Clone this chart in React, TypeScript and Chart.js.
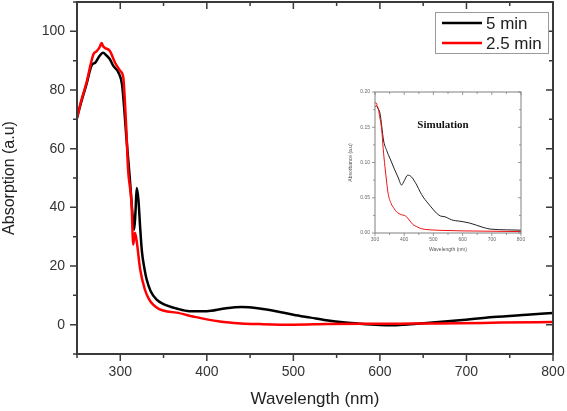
import React, { useEffect, useRef } from "react";
import { Chart, registerables } from "chart.js";

Chart.register(...registerables);

// ---- Main chart data ----
const WL_5 = [250, 255, 261, 267, 271, 276, 280, 284, 288, 292, 298, 302, 305, 307, 311, 314, 316, 317.5, 319, 321, 323, 325, 328, 330.5, 335, 342, 350, 365, 380, 400, 420, 440, 461, 480, 500, 520, 538, 560, 577, 600, 615, 635, 654, 692, 731, 770, 800];
const ABS_5 = [70.5, 76, 82, 88.5, 89.3, 91.6, 92.7, 91.8, 90.5, 88.2, 85.9, 81.9, 72, 64, 50, 38, 32.4, 38, 46.6, 42.5, 33, 25, 19, 15.4, 11.5, 8.5, 7, 5.5, 4.6, 4.6, 5.5, 6.0, 5.5, 4.6, 3.4, 2.4, 1.5, 0.7, 0.3, -0.1, -0.2, 0.1, 0.6, 1.5, 2.6, 3.4, 4.0];

const WL_25 = [250, 255, 261, 266, 269, 273, 276, 278.5, 280, 282, 288, 294, 300, 303.5, 305, 307, 309, 313, 315, 317, 319, 323, 328.5, 333, 338, 345, 354, 365, 384, 400, 415, 423, 440, 461, 500, 539, 580, 615, 650, 692, 740, 800];
const ABS_25 = [70.5, 76.5, 82.5, 89, 92.2, 93.3, 94.5, 96, 95, 94.4, 93.3, 89.3, 86.5, 84.2, 78, 66.6, 53, 41.5, 27.3, 31.3, 28.4, 18.8, 11.9, 8.8, 6.8, 5.3, 4.5, 4.1, 2.8, 1.8, 1.1, 0.8, 0.4, 0.2, 0, 0.2, 0.3, 0.3, 0.4, 0.5, 0.7, 0.9];

const X_TICKS = [300, 400, 500, 600, 700, 800];
const Y_TICKS = [0, 20, 40, 60, 80, 100];
const SERIES_LABELS = ["5 min", "2.5 min"];
const SERIES_COLORS = ["#000000", "#ff0000"];

// ---- Inset (simulation) data ----
const SIM_WL_5 = [300, 305, 310, 317, 323, 329, 340, 351, 365, 380, 391, 400, 412, 424, 433, 443, 455, 465, 490, 511, 525, 540, 555, 568, 585, 602, 625, 648, 670, 694, 750, 800];
const SIM_5 = [0.182, 0.181, 0.177, 0.17, 0.152, 0.132, 0.117, 0.106, 0.092, 0.078, 0.068, 0.074, 0.082, 0.08, 0.075, 0.068, 0.058, 0.051, 0.038, 0.028, 0.024, 0.023, 0.02, 0.018, 0.017, 0.016, 0.014, 0.011, 0.008, 0.0056, 0.0045, 0.004];
const SIM_WL_25 = [300, 305, 310, 316, 323, 328, 334, 340, 345, 355, 365, 374, 390, 400, 408, 420, 430, 443, 460, 488, 550, 602, 700, 800];
const SIM_25 = [0.182, 0.181, 0.178, 0.165, 0.146, 0.12, 0.094, 0.072, 0.056, 0.042, 0.035, 0.03, 0.026, 0.025, 0.023, 0.017, 0.012, 0.009, 0.006, 0.0045, 0.0035, 0.003, 0.0025, 0.002];
const SIM_X_TICKS = [300, 400, 500, 600, 700, 800];
const SIM_Y_TICKS = [0, 0.05, 0.1, 0.15, 0.2];

const SANS = "'Liberation Sans', Arial, sans-serif";
const SERIF = "'Liberation Serif', 'Times New Roman', serif";

const toPts = (xs: number[], ys: number[]) => xs.map((x, i) => ({ x, y: ys[i] }));

type FrameOpts = {
  color: string;
  width: number;
  tickWidth: number;
  xStart: number; xStep: number; xMajor: number;
  yStart: number; yStep: number; yMajor: number;
  major: number; minor: number;
};

function framePlugin(o: FrameOpts) {
  return {
    id: "frameTicks",
    afterDraw(chart: any) {
      const { ctx, chartArea: a, scales } = chart;
      const xs = scales.x, ys = scales.y;
      ctx.save();
      ctx.strokeStyle = o.color;
      ctx.lineWidth = o.tickWidth;
      ctx.beginPath();
      const nx = Math.round((xs.max - o.xStart) / o.xStep);
      for (let i = 0; i <= nx; i++) {
        const v = o.xStart + i * o.xStep;
        const isMaj = Math.abs(v / o.xMajor - Math.round(v / o.xMajor)) < 1e-6;
        const L = isMaj ? o.major : o.minor;
        const px = xs.getPixelForValue(v);
        ctx.moveTo(px, a.bottom); ctx.lineTo(px, a.bottom + L);
        ctx.moveTo(px, a.top); ctx.lineTo(px, a.top + L);
      }
      const ny = Math.round((ys.max - o.yStart) / o.yStep);
      for (let i = 0; i <= ny; i++) {
        const v = o.yStart + i * o.yStep;
        const isMaj = Math.abs(v / o.yMajor - Math.round(v / o.yMajor)) < 1e-6;
        const L = isMaj ? o.major : o.minor;
        const py = ys.getPixelForValue(v);
        ctx.moveTo(a.left, py); ctx.lineTo(a.left - L, py);
        ctx.moveTo(a.right, py); ctx.lineTo(a.right - L, py);
      }
      ctx.stroke();
      ctx.lineWidth = o.width;
      ctx.strokeRect(a.left, a.top, a.right - a.left, a.bottom - a.top);
      ctx.restore();
    },
  };
}

const legendPlugin = {
  id: "boxLegend",
  afterDraw(chart: any) {
    const { ctx, chartArea: a } = chart;
    const w = 113, h = 41;
    const x = a.right - 5 - w;
    const y = a.top + 10;
    ctx.save();
    ctx.fillStyle = "#ffffff";
    ctx.fillRect(x, y, w, h);
    ctx.strokeStyle = "#9a9a9a";
    ctx.lineWidth = 1;
    ctx.strokeRect(x + 0.5, y + 0.5, w, h);
    ctx.font = `17px ${SANS}`;
    ctx.textBaseline = "middle";
    SERIES_LABELS.forEach((lab, i) => {
      const cy = y + 11 + i * 20;
      ctx.strokeStyle = SERIES_COLORS[i];
      ctx.lineWidth = 2.5;
      ctx.beginPath();
      ctx.moveTo(x + 7, cy);
      ctx.lineTo(x + 47, cy);
      ctx.stroke();
      ctx.fillStyle = "#222";
      ctx.fillText(lab, x + 51, cy + 1);
    });
    ctx.restore();
  },
};

const simTitlePlugin = {
  id: "simTitle",
  afterDraw(chart: any) {
    const { ctx, chartArea: a } = chart;
    ctx.save();
    ctx.font = `bold 11px ${SERIF}`;
    ctx.fillStyle = "#111";
    ctx.textAlign = "center";
    ctx.textBaseline = "middle";
    ctx.fillText("Simulation", a.left + 68, a.top + 33);
    ctx.restore();
  },
};

const fitX = (h: number) => (s: any) => { s.height = h; s.paddingLeft = 0; s.paddingRight = 0; };
const fitY = (w: number) => (s: any) => { s.width = w; s.paddingTop = 0; s.paddingBottom = 0; };

export default function App() {
  const mainRef = useRef<HTMLCanvasElement>(null);
  const insetRef = useRef<HTMLCanvasElement>(null);

  useEffect(() => {
    const main = new Chart(mainRef.current as HTMLCanvasElement, {
      type: "line",
      data: {
        datasets: [
          {
            label: SERIES_LABELS[0],
            data: toPts(WL_5, ABS_5),
            borderColor: SERIES_COLORS[0],
            borderWidth: 2.5,
            pointRadius: 0,
            cubicInterpolationMode: "monotone",
            order: 1,
          },
          {
            label: SERIES_LABELS[1],
            data: toPts(WL_25, ABS_25),
            borderColor: SERIES_COLORS[1],
            borderWidth: 2.5,
            pointRadius: 0,
            cubicInterpolationMode: "monotone",
            order: 0,
          },
        ],
      },
      options: {
        animation: false,
        responsive: false,
        devicePixelRatio: 1,
        layout: { padding: { left: 0, top: 2, right: 14, bottom: 0 } },
        plugins: { legend: { display: false }, tooltip: { enabled: false } },
        scales: {
          x: {
            type: "linear",
            min: 250,
            max: 800,
            afterBuildTicks: (s: any) => { s.ticks = X_TICKS.map((v) => ({ value: v })); },
            afterFit: fitX(57),
            grid: { display: false, drawTicks: false },
            border: { display: false },
            ticks: { padding: 10, color: "#333", font: { family: SANS, size: 14 }, maxRotation: 0, autoSkip: false },
            title: { display: true, text: "Wavelength (nm)", color: "#222", font: { family: SANS, size: 17 }, padding: { top: 0, bottom: 1 } },
          },
          y: {
            type: "linear",
            min: -10,
            max: 110,
            afterBuildTicks: (s: any) => { s.ticks = Y_TICKS.map((v) => ({ value: v })); },
            afterFit: fitY(77),
            grid: { display: false, drawTicks: false },
            border: { display: false },
            ticks: { padding: 12, color: "#333", font: { family: SANS, size: 14 }, autoSkip: false },
            title: { display: true, text: "Absorption (a.u)", color: "#222", font: { family: SANS, size: 16 }, padding: { top: 0, bottom: 0 } },
          },
        },
      },
      plugins: [
        framePlugin({ color: "#3a3a3a", width: 2, tickWidth: 1.5, xStart: 250, xStep: 50, xMajor: 100, yStart: -10, yStep: 10, yMajor: 20, major: 7, minor: 4 }),
        legendPlugin,
      ],
    } as any);

    const inset = new Chart(insetRef.current as HTMLCanvasElement, {
      type: "line",
      data: {
        datasets: [
          {
            label: SERIES_LABELS[0],
            data: toPts(SIM_WL_5, SIM_5),
            borderColor: "#222",
            borderWidth: 1,
            pointRadius: 0,
            cubicInterpolationMode: "monotone",
            order: 1,
          },
          {
            label: SERIES_LABELS[1],
            data: toPts(SIM_WL_25, SIM_25),
            borderColor: "#ee1111",
            borderWidth: 1,
            pointRadius: (c: any) => (c.dataIndex === 0 ? 2 : 0),
            pointBorderColor: "#ee1111",
            pointBackgroundColor: "#ffffff",
            pointBorderWidth: 1,
            cubicInterpolationMode: "monotone",
            order: 0,
          },
        ],
      },
      options: {
        animation: false,
        responsive: false,
        devicePixelRatio: 1,
        layout: { padding: { left: 0, top: 7, right: 9, bottom: 0 } },
        plugins: { legend: { display: false }, tooltip: { enabled: false } },
        scales: {
          x: {
            type: "linear",
            min: 300,
            max: 800,
            afterBuildTicks: (s: any) => { s.ticks = SIM_X_TICKS.map((v) => ({ value: v })); },
            afterFit: fitX(27),
            grid: { display: false, drawTicks: false },
            border: { display: false },
            ticks: { padding: 4, color: "#666", font: { family: SANS, size: 5 }, maxRotation: 0, autoSkip: false },
            title: { display: true, text: "Wavelength (nm)", color: "#555", font: { family: SANS, size: 5 }, padding: { top: 0, bottom: 7 } },
          },
          y: {
            type: "linear",
            min: 0,
            max: 0.2,
            afterBuildTicks: (s: any) => { s.ticks = SIM_Y_TICKS.map((v) => ({ value: v })); },
            afterFit: fitY(35),
            grid: { display: false, drawTicks: false },
            border: { display: false },
            ticks: { padding: 5, color: "#666", font: { family: SANS, size: 5 }, autoSkip: false, callback: (v: any) => Number(v).toFixed(2) },
            title: { display: true, text: "Absorbance (a.u)", color: "#555", font: { family: SANS, size: 5 }, padding: { top: 8, bottom: 0 } },
          },
        },
      },
      plugins: [
        framePlugin({ color: "#808080", width: 1, tickWidth: 0.8, xStart: 300, xStep: 50, xMajor: 100, yStart: 0, yStep: 0.025, yMajor: 0.05, major: 3, minor: 2 }),
        simTitlePlugin,
      ],
    } as any);

    return () => {
      main.destroy();
      inset.destroy();
    };
  }, []);

  return (
    <div style={{ position: "absolute", left: 0, top: 0, width: 567, height: 411, background: "#fff" }}>
      <canvas ref={mainRef} width={567} height={411} style={{ position: "absolute", left: 0, top: 0, width: 567, height: 411 }} />
      <canvas ref={insetRef} width={190} height={175} style={{ position: "absolute", left: 340, top: 85, width: 190, height: 175 }} />
    </div>
  );
}
